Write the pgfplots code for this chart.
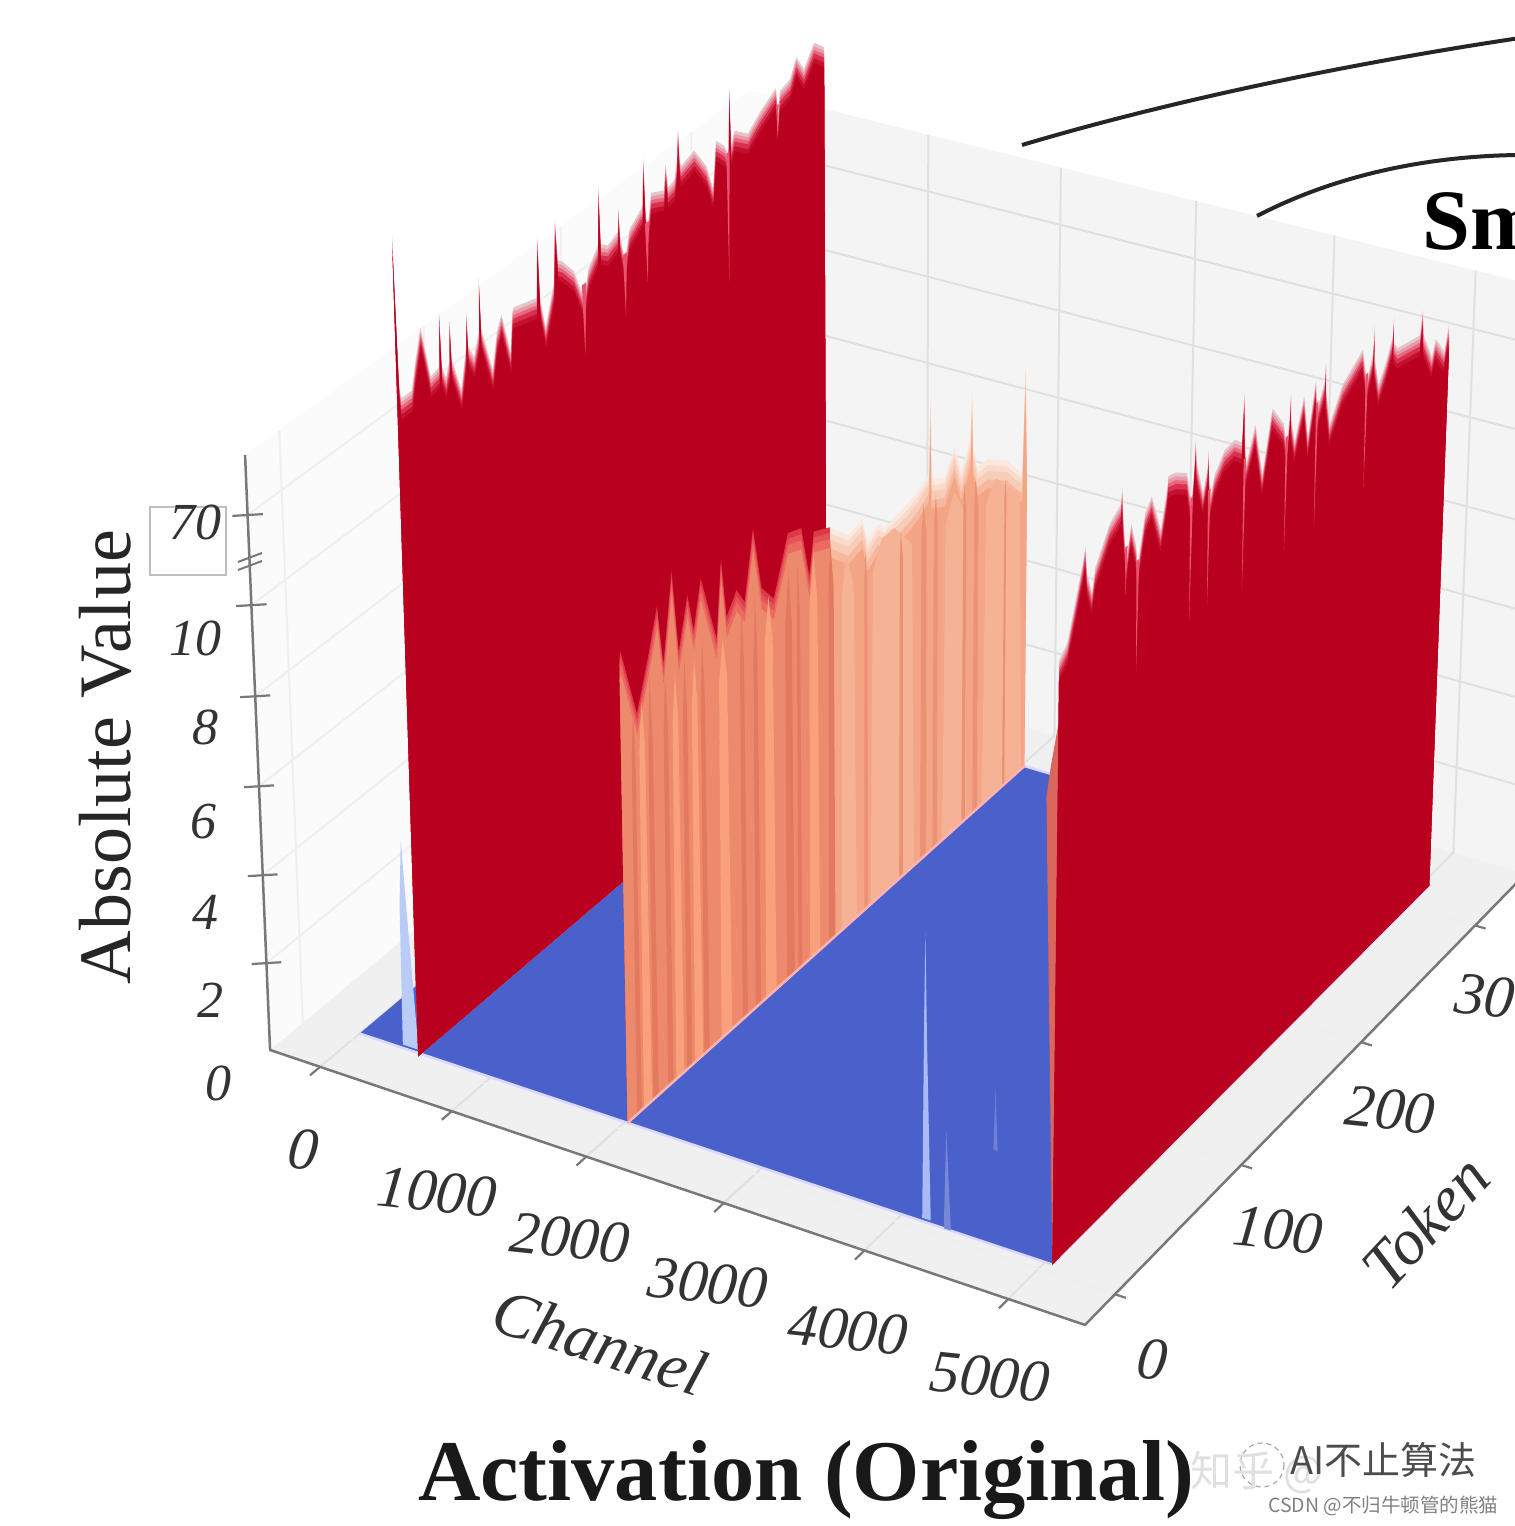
\documentclass[border=0pt]{standalone}
\usepackage{pgfplots}
\usepackage{pgfplotstable}
\usepackage{fontspec}
\pgfplotsset{compat=1.18}
\setmainfont{Liberation Serif}
\newfontfamily\cjk{Noto Sans CJK SC}
\definecolor{wallc}{HTML}{F4F4F4}
\definecolor{lwallc}{HTML}{FBFBFB}
\definecolor{floorc}{HTML}{F0F0F0}
\definecolor{gridc}{HTML}{E0E0E0}
\definecolor{lgridc}{HTML}{EFEFEF}
\definecolor{axc}{HTML}{787878}
\definecolor{blue1}{HTML}{4A60CB}
\definecolor{r0}{HTML}{E3C6CB}
\definecolor{r1}{HTML}{E89AA8}
\definecolor{r2}{HTML}{E8677F}
\definecolor{r3}{HTML}{D93050}
\definecolor{r4}{HTML}{C4102F}
\definecolor{r5}{HTML}{B9001F}
\definecolor{notchc}{HTML}{E8546E}
\definecolor{oL0}{HTML}{DD3A48}
\definecolor{oL1}{HTML}{E5525A}
\definecolor{oL2}{HTML}{EC6A62}
\definecolor{oL3}{HTML}{EE8A6C}
\definecolor{oR0}{HTML}{FBE8DE}
\definecolor{oR1}{HTML}{FADACB}
\definecolor{oR2}{HTML}{F8CDB8}
\definecolor{oR3}{HTML}{F6B99F}
\definecolor{oR4}{HTML}{F4A586}
\definecolor{stD}{HTML}{E37A5E}
\definecolor{stL}{HTML}{F9A07D}
\definecolor{stP}{HTML}{F6B294}
\definecolor{stM}{HTML}{EC9274}
\definecolor{slv}{HTML}{DA675C}
\definecolor{pk1}{HTML}{B9CCF8}
\definecolor{pk2}{HTML}{A9BBF6}
% projection of (channel, token, value) on the picture, read from the box's vanishing points
\def\dz{0}
\def\cc{\thisrow{c}}
\def\Ux{(.0652+(\cc)*.0001692)}
\def\Uy{(.0623+\thisrow{t}*.002706)}
\def\Uz{(max(.0755*min(\thisrow{v},10)+.00246*max(\thisrow{v}-10,0)-\dz,0))}
\def\Wd{(1-.06325*\Ux+.0924*\Uy-.03903*\Uz)}
\def\PX{(270+746.35*\Ux+554.4*\Uy-34.58*\Uz)/\Wd}
\def\PY{(1050+191.14*\Ux-342.6*\Uy-612.8*\Uz)/\Wd}
\pgfplotsset{/pgfplots/table/proj/.style={x expr={\PX},y expr={\PY},row sep=\\}}
\pgfplotstableread[row sep=\\]{
t v\\ 3 0\\ 3 255\\ 4.5 160\\ 5.5 148\\ 7.5 147.7\\ 13 148\\ 16 165\\ 20 184\\ 24 160\\ 25.9 148\\ 32 150\\ 32.8 186.5\\ 33.6 150\\ 36.3 140\\ 39 150\\ 39.7 177\\ 40.4 150\\ 46.6 125\\ 50.5 150\\ 51.3 173.6\\ 52 150\\ 55.9 140\\ 59.8 155\\ 60.5 189\\ 61.2 155\\ 68.6 122.6\\ 72 145\\ 75.5 154.7\\ 81.4 125\\ 83 150\\ 83.9 153.4\\ 100.5 148.5\\ 101.7 189\\ 102.9 146\\ 106.4 125\\ 113 150.6\\ 114.5 191.4\\ 116 163\\ 118.9 160.4\\ 127.2 148.3\\ 134.4 125\\ 137.9 143\\ 145 153.6\\ 146 192.5\\ 147 153\\ 152 148.8\\ 159.5 152.7\\ 160.3 169.6\\ 161 150\\ 164.5 130\\ 168.2 149\\ 178 158\\ 179 190\\ 180 155\\ 181.5 140\\ 184.5 162.6\\ 194 158\\ 195.5 175\\ 197 158\\ 202 160\\ 204 172\\ 205 193\\ 206 170\\ 207 166\\ 217 170\\ 226 153.6\\ 231 135\\ 233.5 166\\ 240 158\\ 243 150\\ 244 196\\ 245 155\\ 247.7 163.5\\ 258 155\\ 268 164\\ 280 172\\ 281.5 150\\ 283 168\\ 291 171\\ 296 183\\ 302 171\\ 310 184\\ 318 176\\ 318 0\\
}\LeftWall
\pgfplotstableread[row sep=\\]{
t v\\ 5 0\\ 5 100\\ 11 107\\ 17 130\\ 22 150\\ 23.5 158\\ 25 140\\ 28.9 125\\ 31.2 139\\ 41.7 159\\ 50 165\\ 50.7 175\\ 51.5 160\\ 54.5 125\\ 58 147\\ 62 130\\ 63.5 115\\ 65 125\\ 68.7 146\\ 73.5 153\\ 81 126\\ 85.5 150\\ 86 157\\ 91.8 155\\ 100.5 148.5\\ 104.6 125\\ 106.4 150\\ 107 165\\ 108 150\\ 113.6 126\\ 116.8 140\\ 117.4 151\\ 118 135\\ 119.5 120\\ 122.6 132\\ 130 142\\ 138 143\\ 144 137\\ 145 168.5\\ 146 140\\ 147.5 120\\ 154.5 141\\ 161 104\\ 168 142\\ 177.5 125.5\\ 180.5 110\\ 182.4 125\\ 183 142.5\\ 183.6 125\\ 187 107\\ 194 132\\ 198 101.5\\ 203.5 135.5\\ 205 115\\ 207 120\\ 211 130\\ 211.5 142\\ 212 125\\ 216 98\\ 226 117\\ 242.5 128.5\\ 246.5 105\\ 251.5 120\\ 252 138\\ 252.5 118\\ 257 95\\ 263 107\\ 268 120\\ 268.5 133\\ 269 115\\ 272.5 109\\ 292 104\\ 293.5 120\\ 295 102\\ 303 82\\ 306 92\\ 314 78\\ 317 93\\ 318 85\\ 318 0\\
}\RightWall
\pgfplotstableread[row sep=\\]{
t v\\ 5 0\\ 5 18.7\\ 6 22\\ 16.7 8.8\\ 25 9.8\\ 32 33\\ 36 9.4\\ 42.7 48\\ 47 9.4\\ 53.8 24\\ 58 9.6\\ 63.5 28\\ 74.6 9\\ 78.3 30\\ 82 9.3\\ 89.5 9.7\\ 95.4 9.3\\ 102 33\\ 108 9.3\\ 117 8.85\\ 128 11\\ 138 9.9\\ 144 8.7\\ 147.5 9.6\\ 154 9.5\\ 160 9.4\\ 160 0\\
}\OrangeL
\pgfplotstableread[row sep=\\]{
t v\\ 160 0\\ 160 9.4\\ 165.4 9.2\\ 174 8.9\\ 185 9\\ 189 8.4\\ 197 8.6\\ 202 8.4\\ 221 8.5\\ 229 8.6\\ 237.5 8.8\\ 238.5 25\\ 239.5 8.6\\ 250 8.4\\ 258 8.9\\ 263.5 8.2\\ 271 8.8\\ 272 9.9\\ 273 8.6\\ 277 8\\ 285 8\\ 301 7.6\\ 314 7\\ 316 9.5\\ 318 7\\ 318 0\\
}\OrangeR
\newcommand\Lay[3]{\def\dz{#1}\addplot[fill=#2,draw=none] table[proj]{#3};}
\newcommand\RedLayers[1]{\Lay{0}{r0}{#1}\Lay{.006}{r1}{#1}\Lay{.012}{r2}{#1}\Lay{.018}{r3}{#1}\Lay{.026}{r4}{#1}\Lay{.034}{r5}{#1}\def\dz{0}}
\newcommand\Notch[5]{\addplot[fill=notchc,draw=none] table[proj]{t v\\ #1 #4\\ #2 #5\\ #3 #4\\};}
\begin{document}
\begin{tikzpicture}[x=1pt,y=1pt]
\clip[use as bounding box] (0,0) rectangle (1515pt,1526pt);
\begin{axis}[at={(0,0)},anchor=south west,width=1515pt,height=1526pt,scale only axis,
  xmin=0,xmax=1515,ymin=0,ymax=1526,y dir=reverse,hide axis,clip=false,
  every axis plot/.append style={no markers,forget plot}]
% ---- box walls
\addplot[fill=lwallc,draw=none] table[proj]{c t v\\ -385 346 0\\ 200 346 0\\ 200 346 109.6\\ -385 346 109.6\\};
\addplot[fill=wallc,draw=none] table[proj]{c t v\\ 200 346 0\\ 5525 346 0\\ 5525 346 109.6\\ 200 346 109.6\\};
\addplot[fill=lwallc,draw=none] table[proj]{c t v\\ -385 -23 0\\ -385 346 0\\ -385 346 109.6\\ -385 -23 109.6\\};
\addplot[fill=floorc,draw=none] table[proj]{c t v\\ -385 -23 0\\ 5525 -23 0\\ 5525 346 0\\ -385 346 0\\};
% ---- grid
\pgfplotsinvokeforeach{1000,2000,3000,4000,5000}{
 \addplot[gridc,line width=2pt] table[proj]{c t v\\ #1 -23 0\\ #1 346 0\\ #1 346 109.6\\};}
\addplot[gridc,line width=2pt] table[proj]{c t v\\ 0 -23 0\\ 0 346 0\\};
\pgfplotsinvokeforeach{0,100,200,300}{
 \addplot[lgridc,line width=2pt] table[proj]{c t v\\ 5525 #1 0\\ -385 #1 0\\ -385 #1 109.6\\};}
\pgfplotsinvokeforeach{2,4,6,8,10,70}{
 \addplot[lgridc,line width=2pt] table[proj]{c t v\\ -385 -23 #1\\ -385 346 #1\\};
 \addplot[gridc,line width=2pt] table[proj]{c t v\\ 200 346 #1\\ 5525 346 #1\\};}
% ---- axis lines and ticks
\addplot[axc,line width=2.5pt] table[proj]{c t v\\ -385 -23 109.6\\ -385 -23 0\\ 5525 -23 0\\ 5525 346 0\\};
\pgfplotsinvokeforeach{0,1000,2000,3000,4000,5000}{
 \addplot[axc,line width=2.2pt] table[proj]{c t v\\ #1 -23 0\\ #1 -30 0\\};}
\pgfplotsinvokeforeach{0,100,200,300}{
 \addplot[axc,line width=2.2pt] table[proj]{c t v\\ 5525 #1 0\\ 5600 #1 0\\};}
\pgfplotsinvokeforeach{2,4,6,8,10,70}{
 \addplot[axc,line width=2.2pt] table[proj]{c t v\\ -460 -26.5 #1\\ -310 -19.5 #1\\};}
% ---- blue floor of the surface
\addplot[fill=blue1,draw=white!85!blue,line width=2.5pt] table[proj]{c t v\\ 0 5 0\\ 5050 5 0\\ 5050 318 0\\ 0 318 0\\};
\addplot[fill=blue1!75!white,draw=none] table[proj]{c t v\\ 4295 5 0\\ 4310 5 2.2\\ 4345 5 0\\};
\addplot[fill=blue1!80!white,draw=none] table[proj]{c t v\\ 4130 61 0\\ 4142 61 1.4\\ 4160 61 0\\};
% ---- small peaks
\addplot[fill=pk1,draw=none] table[proj]{c t v\\ 310 7 0\\ 320 7 3.2\\ 345 7 4.7\\ 375 7 3\\ 430 7 0\\};
\addplot[fill=pk2,draw=none] table[proj]{c t v\\ 4125 7 0\\ 4135 7 4.5\\ 4142 7 6.3\\ 4155 7 4\\ 4185 7 0\\};
% ---- wall at channel 470
\def\cc{470}
\RedLayers{\LeftWall}
\Notch{132.8}{134.4}{136}{135}{87}
\Notch{163}{164.5}{166}{135}{93}
\Notch{179.5}{181}{182.5}{145}{105}
\Notch{241.4}{242.6}{243.8}{152}{63}
\Notch{280}{281}{282}{160}{136}
% ---- wall at channel 2020
\def\cc{2020}
\Lay{0}{oL0}{\OrangeL}\Lay{.01}{oL1}{\OrangeL}\Lay{.02}{oL2}{\OrangeL}\Lay{.035}{oL3}{\OrangeL}
\Lay{0}{oR0}{\OrangeR}\Lay{.01}{oR1}{\OrangeR}\Lay{.02}{oR2}{\OrangeR}\Lay{.035}{oR3}{\OrangeR}\Lay{.05}{oR4}{\OrangeR}
\def\dz{0}
\addplot[fill=stL,draw=none] table[proj]{t v\\ 17 0\\ 18 8\\ 20 9\\ 22 8\\ 23 0\\ 41 0\\ 42 8\\ 44 9\\ 46 8\\ 47 0\\ 55 0\\ 56 8\\ 58 9\\ 60 8\\ 61 0\\ 75 0\\ 76 8\\ 79 8.9\\ 82 8\\ 83 0\\ 109 0\\ 110 8\\ 113 9\\ 116 8\\ 117 0\\ 143 0\\ 144 8\\ 147 9.2\\ 150 8\\ 151 0\\};
\addplot[fill=stP,draw=none] table[proj]{t v\\ 168 0\\ 169 7.7\\ 172 8.5\\ 178 7.7\\ 180 0\\ 191 0\\ 193 7.6\\ 200 8.2\\ 210 8.2\\ 224 7.5\\ 226 0\\ 249 0\\ 251 7.3\\ 258 7.9\\ 267 7.2\\ 269 0\\ 282 0\\ 284 7\\ 292 7.4\\ 312 6.6\\ 315 0\\};
\addplot[fill=stD,draw=none] table[proj]{t v\\ 12 0\\ 12.5 8\\ 14 9\\ 15 8\\ 15.5 0\\ 24 0\\ 24.5 8\\ 26 9.4\\ 27.5 8\\ 28 0\\ 35 0\\ 35.5 8\\ 37 9.2\\ 38.5 8\\ 39 0\\ 49 0\\ 49.5 8\\ 51 9.2\\ 52.5 8\\ 53 0\\ 62 0\\ 62.5 8\\ 64 9.2\\ 65.5 8\\ 66 0\\ 91 0\\ 91.5 8\\ 93 9.2\\ 94.5 8\\ 95 0\\ 101 0\\ 101.5 8\\ 103 9.2\\ 104.5 8\\ 105 0\\ 125 0\\ 125.5 8\\ 128 9.2\\ 130.5 8\\ 131 0\\ 134 0\\ 134.3 8\\ 135 9.2\\ 136.7 8\\ 137 0\\ 158 0\\ 158.5 8\\ 160 9.1\\ 162.5 8\\ 163 0\\};
\addplot[fill=stM,draw=none] table[proj]{t v\\ 186 0\\ 186.3 7.5\\ 187 8.2\\ 188.7 7.5\\ 189 0\\ 214 0\\ 214.3 7.4\\ 215 8\\ 216.7 7.4\\ 217 0\\ 231 0\\ 231.5 7.5\\ 233 8.2\\ 235.5 7.5\\ 236 0\\ 241 0\\ 241.5 7.5\\ 243 8.2\\ 244.5 7.5\\ 245 0\\ 265 0\\ 265.3 7.3\\ 266 7.9\\ 267.7 7.3\\ 268 0\\ 274 0\\ 274.3 7.2\\ 275 7.8\\ 277.7 7.2\\ 278 0\\ 299 0\\ 299.2 6.8\\ 300 7.2\\ 300.8 6.8\\ 301 0\\};
\addplot[draw=white!70!red,line width=2.5pt] table[proj]{t v\\ 5 0\\ 318 0\\};
% ---- wall at channel 5050
\def\cc{\thisrow{c}}
\addplot[fill=slv,draw=none] table[proj]{c t v\\ 5050 5 0\\ 4975 5 11\\ 5000 5 30\\ 5050 5 60\\};
\def\cc{5050}
\RedLayers{\RightWall}
\Notch{53.5}{54.5}{55.5}{135}{104}
\Notch{62.5}{63.5}{64.5}{120}{48}
\Notch{103.6}{104.6}{105.6}{130}{50}
\Notch{117.5}{118.5}{119.5}{125}{51}
\Notch{145.5}{146.5}{147.5}{125}{38.5}
\Notch{179.5}{180.5}{181.5}{115}{40}
\Notch{204}{205}{206}{120}{38}
\Notch{245.5}{246.5}{247.5}{110}{34}
\end{axis}
% ---- annotations, in picture coordinates (origin top left of the reference)
\begin{scope}[shift={(0,1526pt)},y=-1pt,x=1pt]
\draw[black!85,line width=4pt] (1022,145) .. controls (1180,98) and (1360,62) .. (1520,38);
\draw[black!85,line width=4pt] (1257,216) .. controls (1330,178) and (1420,156) .. (1520,155);
\draw[black!25,line width=1.5pt] (150,507) rectangle (226,575);
\draw[axc,line width=2pt] (238,562)--(262,553) (238,570)--(262,561);
\tikzset{tl/.style={text=black!80,font=\fontsize{52}{52}\selectfont\itshape,inner sep=0pt}}
\node[tl] at (218,1083) {0};
\node[tl] at (210,1000) {2};
\node[tl] at (205,912) {4};
\node[tl] at (203,822) {6};
\node[tl] at (205,727) {8};
\node[tl] at (195,638) {10};
\node[tl] at (195,522) {70};
\tikzset{xl/.style={tl,font=\fontsize{60}{60}\selectfont\itshape,rotate=-6}}
\node[xl] at (303,1150) {0};
\node[xl] at (437,1192) {1000};
\node[xl] at (570,1238) {2000};
\node[xl] at (708,1283) {3000};
\node[xl] at (848,1330) {4000};
\node[xl] at (990,1377) {5000};
\node[xl] at (1152,1360) {0};
\node[xl] at (1278,1230) {100};
\node[xl] at (1390,1110) {200};
\node[xl,anchor=west] at (1455,993) {300};
\node[tl,font=\fontsize{65}{65}\selectfont\itshape,rotate=-18] at (600,1342) {Channel};
\node[tl,font=\fontsize{65}{65}\selectfont\itshape,rotate=47] at (1425,1222) {Token};
\node[text=black!85,font=\fontsize{74}{74}\selectfont,rotate=90,inner sep=0pt] at (105,757) {Absolute Value};
\node[text=black!90,font=\fontsize{86.5}{86.5}\selectfont\bfseries,inner sep=0pt] at (806,1480) {Activation (Original)};
\node[text=black,font=\fontsize{86}{86}\selectfont\bfseries,inner sep=0pt,anchor=base west] at (1422,250) {Sm};
\draw[black!35,line width=1.2pt,dash pattern=on 5pt off 4pt] (1262,1465) circle (22);
\node[text=black!12,font=\fontsize{42}{42}\selectfont\cjk,inner sep=0pt,anchor=west] at (1190,1472) {知乎 @};
\node[text=black!70,font=\fontsize{38}{38}\selectfont\cjk,inner sep=0pt,anchor=west] at (1290,1460) {AI不止算法};
\node[text=black!50,font=\fontsize{19.5}{20}\selectfont\cjk,inner sep=0pt,anchor=west] at (1268,1506) {CSDN @不归牛顿管的熊猫};
\end{scope}
\end{tikzpicture}
\end{document}
